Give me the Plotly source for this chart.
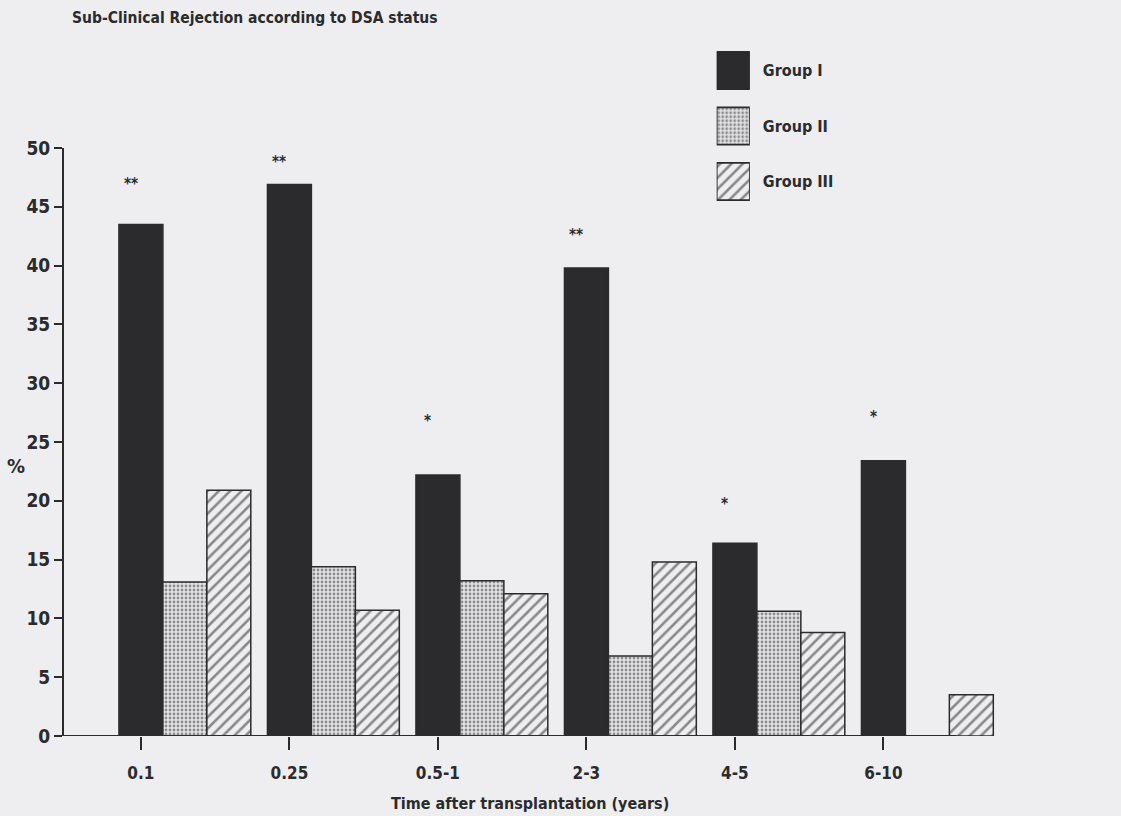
import plotly.graph_objects as go

# ---- data -------------------------------------------------------------
periods = ["0.1", "0.25", "0.5-1", "2-3", "4-5", "6-10"]
groups = ["Group I", "Group II", "Group III"]
group_i = [43.5, 46.9, 22.2, 39.8, 16.4, 23.4]
group_ii = [13.1, 14.4, 13.2, 6.8, 10.6, 0.0]
group_iii = [20.9, 10.7, 12.1, 14.8, 8.8, 3.5]
significance = ["**", "**", "*", "**", "*", "*"]

title_text = "Sub-Clinical Rejection according to DSA status"
x_title = "Time after transplantation (years)"
y_title = "%"

# ---- style ------------------------------------------------------------
FONT = "DejaVu Sans Condensed, Liberation Sans Narrow, Arial Narrow, sans-serif"
INK = "#2b2b2d"
BG = "#eeeef0"
BAR_W = 0.296            # bar width in category units
STAR_LIFT_PX = [40, 22, 54, 33, 39, 44]

styles = [
    dict(color=INK, pattern=dict(shape="")),
    dict(color="#e4e4e6",
         pattern=dict(shape=".", fgcolor="#333335", bgcolor="#e4e4e6",
                      size=4, solidity=0.4, fillmode="overlay")),
    dict(color=BG,
         pattern=dict(shape="/", fgcolor="#222224", bgcolor=BG,
                      size=8, solidity=0.32, fillmode="overlay")),
]

x_idx = list(range(len(periods)))
series = [group_i, group_ii, group_iii]

fig = go.Figure()

# grouped bars: tick sits under the Group I bar, the others follow to its right
for k, (name, vals, st) in enumerate(zip(groups, series, styles)):
    fig.add_trace(go.Bar(
        x=x_idx, y=vals, name=name, width=BAR_W,
        offset=-BAR_W / 2 + k * BAR_W,
        marker=dict(color=st["color"], pattern=st["pattern"],
                    line=dict(color=INK, width=1.5)),
        showlegend=False, hoverinfo="skip",
        xaxis="x", yaxis="y",
    ))

# legend key drawn as a small horizontal bar panel with labels on the right
for name, st in zip(groups, styles):
    fig.add_trace(go.Bar(
        x=[1], y=[name], orientation="h", width=0.67,
        marker=dict(color=st["color"], pattern=st["pattern"],
                    line=dict(color=INK, width=1.8)),
        showlegend=False, hoverinfo="skip",
        xaxis="x2", yaxis="y2",
    ))

# significance marks above Group I bars
for i, (s, v) in enumerate(zip(significance, group_i)):
    fig.add_annotation(
        x=x_idx[i], y=v, xref="x", yref="y", text=s, showarrow=False,
        xshift=-10, yshift=STAR_LIFT_PX[i], yanchor="middle",
        font=dict(family=FONT, size=15, color=INK, weight="bold"),
    )

x_left = -0.518
x_right = x_left + 1036 / 148.5

fig.add_shape(type="line", xref="x", yref="y", x0=x_left, x1=5.49, y0=0, y1=0,
              line=dict(color=INK, width=2))

fig.add_annotation(x=0.006, y=1.032, xref="paper", yref="paper", text=title_text,
                   showarrow=False, xanchor="left", yanchor="middle",
                   font=dict(family=FONT, size=15.5, color=INK, weight="bold"))
fig.add_annotation(x=0.45, y=-0.097, xref="paper", yref="paper", text=x_title,
                   showarrow=False, xanchor="center", yanchor="middle",
                   font=dict(family=FONT, size=16, color=INK, weight="bold"))
fig.add_annotation(x=-0.046, y=0.388, xref="paper", yref="paper", text=y_title,
                   showarrow=False, xanchor="center", yanchor="middle",
                   font=dict(family=FONT, size=20, color=INK, weight="bold"))

fig.update_layout(
    width=1121, height=816,
    margin=dict(l=64, r=21, t=40, b=80),
    paper_bgcolor=BG, plot_bgcolor=BG,
    barmode="overlay",
    font=dict(family=FONT, color=INK),
    xaxis=dict(
        range=[x_left, x_right], tickvals=x_idx, ticktext=periods,
        showgrid=False, zeroline=False, showline=False,
        ticks="outside", ticklen=13, tickwidth=1.5, tickcolor=INK,
        ticklabelstandoff=9,
        tickfont=dict(family=FONT, size=17, color=INK, weight="bold"),
    ),
    yaxis=dict(
        domain=[0, 0.8448], range=[0, 50], tickvals=list(range(0, 51, 5)),
        showgrid=False, zeroline=False, showline=True, linecolor=INK, linewidth=2,
        ticks="outside", ticklen=8, tickwidth=1.5, tickcolor=INK,
        tickfont=dict(family=FONT, size=19, color=INK, weight="bold"),
    ),
    xaxis2=dict(domain=[0.630, 0.662], range=[0, 1], anchor="y2",
                visible=False, fixedrange=True),
    yaxis2=dict(domain=[0.7568, 0.996], anchor="x2", side="right",
                type="category", categoryorder="array", categoryarray=groups,
                autorange="reversed", showgrid=False, zeroline=False,
                showline=False, ticks="", ticklabelstandoff=12,
                tickfont=dict(family=FONT, size=16, color=INK, weight="bold")),
)

fig.write_html("out.html")
